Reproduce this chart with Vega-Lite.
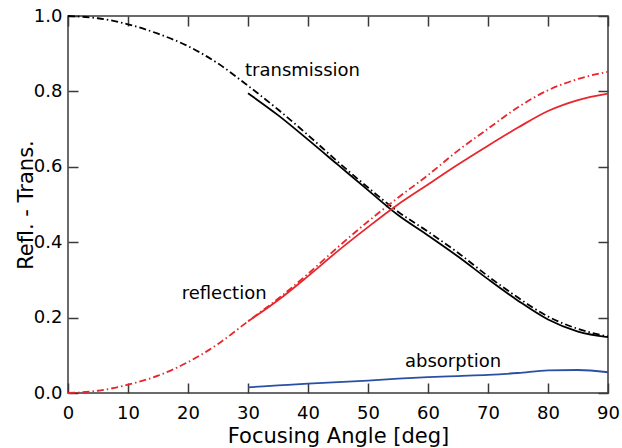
{
  "$schema": "https://vega.github.io/schema/vega-lite/v6.json",
  "width": 540,
  "height": 377,
  "autosize": {"type": "none"},
  "padding": {"left": 68, "top": 16, "right": 14, "bottom": 55},
  "config": {
    "view": {"stroke": "#3a3a3a", "strokeWidth": 1.5},
    "axis": {
      "grid": false,
      "domain": false,
      "tickColor": "#3a3a3a",
      "tickWidth": 1.5,
      "labelFont": "DejaVu Sans",
      "labelFontSize": 18,
      "labelColor": "#000000",
      "titleFont": "DejaVu Sans",
      "titleFontSize": 21,
      "titleFontWeight": "normal",
      "titleColor": "#000000"
    }
  },
  "datasets": {
    "curves": [
      {"series": "T_theory", "angle": 0, "value": 1.0},
      {"series": "T_theory", "angle": 5, "value": 0.994},
      {"series": "T_theory", "angle": 10, "value": 0.978},
      {"series": "T_theory", "angle": 15, "value": 0.953},
      {"series": "T_theory", "angle": 20, "value": 0.92},
      {"series": "T_theory", "angle": 25, "value": 0.874},
      {"series": "T_theory", "angle": 30, "value": 0.815},
      {"series": "T_theory", "angle": 35, "value": 0.752},
      {"series": "T_theory", "angle": 40, "value": 0.684},
      {"series": "T_theory", "angle": 45, "value": 0.613},
      {"series": "T_theory", "angle": 50, "value": 0.545},
      {"series": "T_theory", "angle": 55, "value": 0.481},
      {"series": "T_theory", "angle": 60, "value": 0.428},
      {"series": "T_theory", "angle": 65, "value": 0.372},
      {"series": "T_theory", "angle": 70, "value": 0.31},
      {"series": "T_theory", "angle": 75, "value": 0.253},
      {"series": "T_theory", "angle": 80, "value": 0.203},
      {"series": "T_theory", "angle": 85, "value": 0.17},
      {"series": "T_theory", "angle": 90, "value": 0.15},
      {"series": "R_theory", "angle": 0, "value": 0.0},
      {"series": "R_theory", "angle": 5, "value": 0.006},
      {"series": "R_theory", "angle": 10, "value": 0.022},
      {"series": "R_theory", "angle": 15, "value": 0.046},
      {"series": "R_theory", "angle": 20, "value": 0.082},
      {"series": "R_theory", "angle": 25, "value": 0.13},
      {"series": "R_theory", "angle": 30, "value": 0.19},
      {"series": "R_theory", "angle": 35, "value": 0.25},
      {"series": "R_theory", "angle": 40, "value": 0.316},
      {"series": "R_theory", "angle": 45, "value": 0.387},
      {"series": "R_theory", "angle": 50, "value": 0.455},
      {"series": "R_theory", "angle": 55, "value": 0.518},
      {"series": "R_theory", "angle": 60, "value": 0.578},
      {"series": "R_theory", "angle": 65, "value": 0.643},
      {"series": "R_theory", "angle": 70, "value": 0.701},
      {"series": "R_theory", "angle": 75, "value": 0.758},
      {"series": "R_theory", "angle": 80, "value": 0.803},
      {"series": "R_theory", "angle": 85, "value": 0.833},
      {"series": "R_theory", "angle": 90, "value": 0.852},
      {"series": "T", "angle": 30, "value": 0.795},
      {"series": "T", "angle": 35, "value": 0.737},
      {"series": "T", "angle": 40, "value": 0.672},
      {"series": "T", "angle": 45, "value": 0.605},
      {"series": "T", "angle": 50, "value": 0.538},
      {"series": "T", "angle": 55, "value": 0.472},
      {"series": "T", "angle": 60, "value": 0.418},
      {"series": "T", "angle": 65, "value": 0.362},
      {"series": "T", "angle": 70, "value": 0.302},
      {"series": "T", "angle": 75, "value": 0.245},
      {"series": "T", "angle": 80, "value": 0.195},
      {"series": "T", "angle": 85, "value": 0.163},
      {"series": "T", "angle": 90, "value": 0.148},
      {"series": "R", "angle": 30, "value": 0.19},
      {"series": "R", "angle": 35, "value": 0.246},
      {"series": "R", "angle": 40, "value": 0.31},
      {"series": "R", "angle": 45, "value": 0.377},
      {"series": "R", "angle": 50, "value": 0.44},
      {"series": "R", "angle": 55, "value": 0.5},
      {"series": "R", "angle": 60, "value": 0.553},
      {"series": "R", "angle": 65, "value": 0.606},
      {"series": "R", "angle": 70, "value": 0.656},
      {"series": "R", "angle": 75, "value": 0.704},
      {"series": "R", "angle": 80, "value": 0.748},
      {"series": "R", "angle": 85, "value": 0.777},
      {"series": "R", "angle": 90, "value": 0.794},
      {"series": "A", "angle": 30, "value": 0.015},
      {"series": "A", "angle": 35, "value": 0.02},
      {"series": "A", "angle": 40, "value": 0.025},
      {"series": "A", "angle": 45, "value": 0.029},
      {"series": "A", "angle": 50, "value": 0.033},
      {"series": "A", "angle": 55, "value": 0.038},
      {"series": "A", "angle": 60, "value": 0.042},
      {"series": "A", "angle": 65, "value": 0.045},
      {"series": "A", "angle": 70, "value": 0.048},
      {"series": "A", "angle": 75, "value": 0.053},
      {"series": "A", "angle": 80, "value": 0.06},
      {"series": "A", "angle": 85, "value": 0.061},
      {"series": "A", "angle": 90, "value": 0.055}
    ],
    "labels": [
      {"label": "transmission", "x": 29.5, "y": 0.84},
      {"label": "reflection", "x": 18.95, "y": 0.249},
      {"label": "absorption", "x": 56.17, "y": 0.07}
    ]
  },
  "layer": [
    {
      "data": {"name": "curves"},
      "transform": [{"filter": {"field": "series", "oneOf": ["T_theory", "R_theory"]}}],
      "mark": {"type": "line", "strokeWidth": 1.8, "interpolate": "monotone", "strokeDash": [7, 3, 1.5, 3]},
      "encoding": {
        "x": {
          "field": "angle",
          "type": "quantitative",
          "scale": {"domain": [0, 90], "nice": false, "zero": false},
          "axis": {
            "orient": "bottom",
            "offset": -10,
            "tickSize": 10,
            "values": [0, 10, 20, 30, 40, 50, 60, 70, 80, 90],
            "format": "d",
            "labelPadding": 11,
            "labelFlush": false,
            "labelOverlap": false,
            "title": "Focusing Angle [deg]",
            "titleBaseline": "alphabetic",
            "titleY": 59
          }
        },
        "y": {
          "field": "value",
          "type": "quantitative",
          "scale": {"domain": [0, 1], "nice": false, "zero": false},
          "axis": {
            "orient": "left",
            "offset": -10,
            "tickSize": 10,
            "values": [0, 0.2, 0.4, 0.6, 0.8, 1.0],
            "format": ".1f",
            "labelPadding": 6,
            "labelFlush": false,
            "labelOverlap": false,
            "title": "Refl. - Trans.",
            "titleBaseline": "alphabetic",
            "titleAlign": "center",
            "titleAngle": -90,
            "titleX": -46,
            "titleY": 188.5
          }
        },
        "color": {
          "field": "series",
          "type": "nominal",
          "scale": {"domain": ["T_theory", "R_theory", "T", "R", "A"], "range": ["#000000", "#e8262b", "#000000", "#e8262b", "#2a4fa6"]},
          "legend": null
        }
      }
    },
    {
      "data": {"name": "curves"},
      "transform": [{"filter": {"field": "series", "oneOf": ["T", "R", "A"]}}],
      "mark": {"type": "line", "strokeWidth": 1.8, "interpolate": "monotone"},
      "encoding": {
        "x": {"field": "angle", "type": "quantitative", "scale": {"domain": [0, 90], "nice": false, "zero": false}, "axis": null},
        "y": {"field": "value", "type": "quantitative", "scale": {"domain": [0, 1], "nice": false, "zero": false}, "axis": null},
        "color": {
          "field": "series",
          "type": "nominal",
          "scale": {"domain": ["T_theory", "R_theory", "T", "R", "A"], "range": ["#000000", "#e8262b", "#000000", "#e8262b", "#2a4fa6"]},
          "legend": null
        }
      }
    },
    {
      "data": {"name": "labels"},
      "mark": {"type": "text", "font": "DejaVu Sans", "fontSize": 18, "align": "left", "baseline": "alphabetic", "color": "#000000"},
      "encoding": {
        "x": {
          "field": "x",
          "type": "quantitative",
          "scale": {"domain": [0, 90], "nice": false, "zero": false},
          "axis": {
            "orient": "top",
            "offset": -10,
            "tickSize": 10,
            "values": [0, 10, 20, 30, 40, 50, 60, 70, 80, 90],
            "labels": false,
            "title": null
          }
        },
        "y": {
          "field": "y",
          "type": "quantitative",
          "scale": {"domain": [0, 1], "nice": false, "zero": false},
          "axis": {
            "orient": "right",
            "offset": -10,
            "tickSize": 10,
            "values": [0, 0.2, 0.4, 0.6, 0.8, 1.0],
            "labels": false,
            "title": null
          }
        },
        "text": {"field": "label", "type": "nominal"}
      }
    }
  ],
  "resolve": {"axis": {"x": "independent", "y": "independent"}}
}
